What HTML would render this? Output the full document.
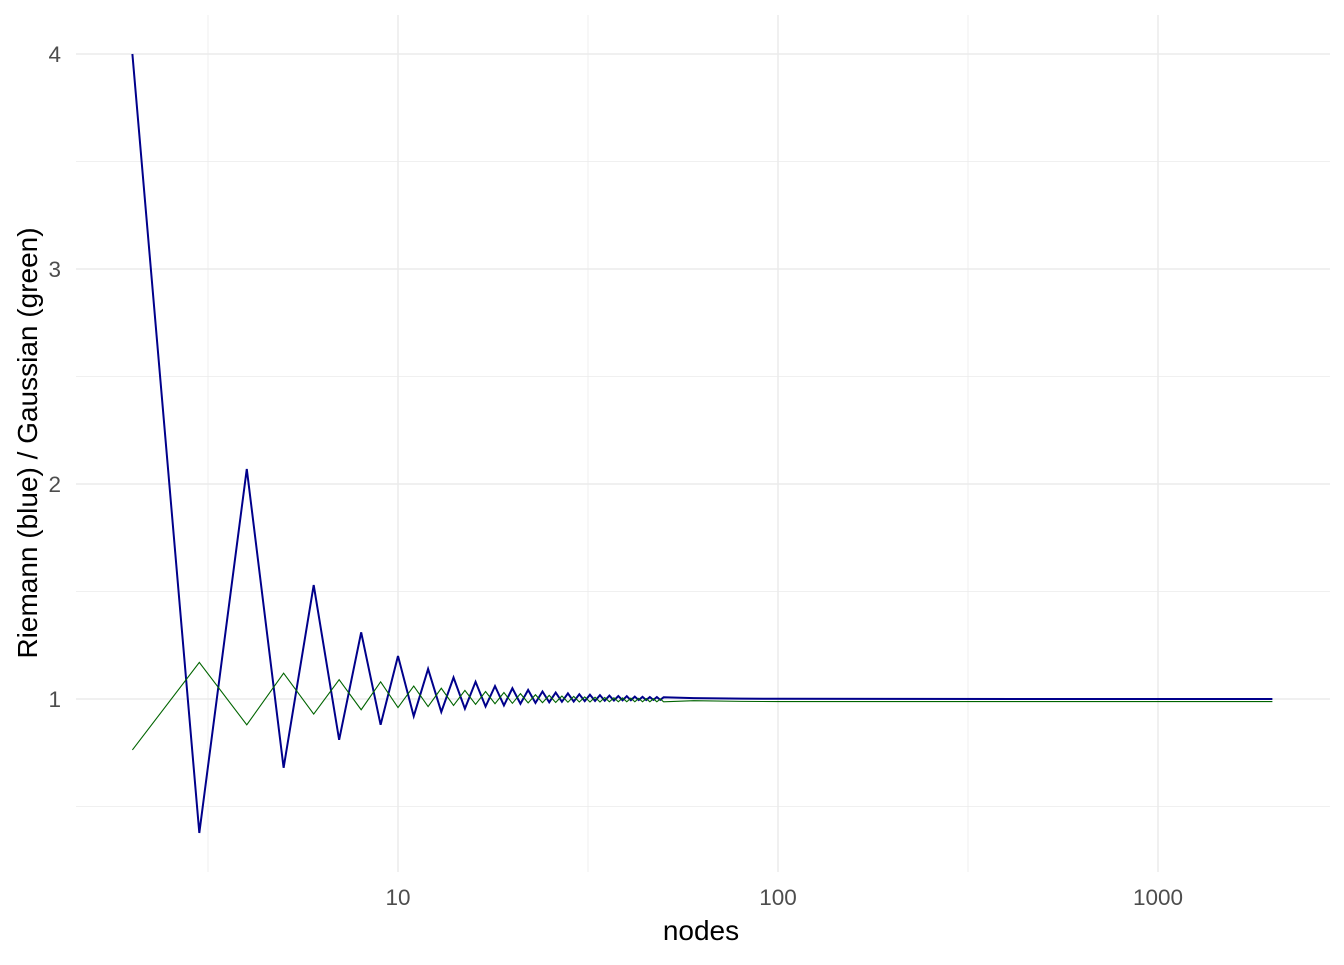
<!DOCTYPE html>
<html><head><meta charset="utf-8"><style>
body{margin:0;background:#fff;}
svg text{font-family:"Liberation Sans",Arial,sans-serif;}
</style></head><body>
<svg id="chart" width="1344" height="960">
<g id="grid"></g>
<g id="lines"></g>
<g id="axes"></g>
<text x="701" y="940" font-size="28" text-anchor="middle" fill="#000">nodes</text>
<text transform="translate(37,443) rotate(-90)" font-size="28" text-anchor="middle" fill="#000">Riemann (blue) / Gaussian (green)</text>
</svg>
<script>
const nodes = [2,3,4,5,6,7,8,9,10,11,12,13,14,15,16,17,18,19,20,21,22,23,24,25,26,27,28,29,30,31,32,33,34,35,36,37,38,39,40,41,42,43,44,45,46,47,48,49,50,60,80,100,200,500,1000,2000];
const riemann = [4,0.377,2.07,0.68,1.53,0.81,1.31,0.88,1.2,0.92,1.14,0.94,1.10,0.955,1.08,0.965,1.06,0.97,1.05,0.978,1.042,0.982,1.035,0.985,1.03,0.987,1.026,0.988,1.022,0.99,1.02,0.991,1.018,0.992,1.016,0.993,1.014,0.994,1.013,0.994,1.011,0.995,1.01,0.995,1.009,0.996,1.009,0.996,1.008,1.004,1.002,1.001,1.0005,1.0001,1.0,1.0];
const gaussian = [0.763,1.17,0.88,1.12,0.93,1.09,0.95,1.08,0.96,1.06,0.965,1.05,0.97,1.04,0.975,1.035,0.978,1.03,0.98,1.025,0.982,1.02,0.983,1.017,0.984,1.014,0.985,1.012,0.986,1.01,0.986,1.008,0.986,1.007,0.987,1.006,0.987,1.005,0.987,1.004,0.987,1.003,0.987,1.002,0.987,1.001,0.987,1.0,0.987,0.992,0.989,0.988,0.988,0.988,0.988,0.988];
const xTicks = [10,100,1000];
const xMinor = [Math.sqrt(10),Math.sqrt(1000),Math.sqrt(100000)];
const yTicks = [1,2,3,4];
const yMinor = [0.5,1.5,2.5,3.5];

const NS='http://www.w3.org/2000/svg';
const X=v=>398+380*Math.log10(v/10);
const Y=v=>699-215*(v-1);
const L=76,R=1330,T=15,B=872;
const grid=document.getElementById('grid'),axes=document.getElementById('axes'),lines=document.getElementById('lines');
function mk(tag,attrs,parent){const e=document.createElementNS(NS,tag);for(const k in attrs)e.setAttribute(k,attrs[k]);parent.appendChild(e);return e;}
yMinor.forEach(v=>{const e=mk('line',{x1:L,x2:R,y1:Y(v),y2:Y(v),stroke:'#ebebeb','stroke-width':0.8},grid);

});
xMinor.forEach(v=>{const e=mk('line',{x1:X(v),x2:X(v),y1:T,y2:B,stroke:'#ebebeb','stroke-width':0.8},grid);

});
yTicks.forEach(v=>{const e=mk('line',{x1:L,x2:R,y1:Y(v),y2:Y(v),stroke:'#ebebeb','stroke-width':1.5},grid);


const t=mk('text',{x:61,y:Y(v)+8,'font-size':22.5,'text-anchor':'end',fill:'#4d4d4d'},axes);t.textContent=v;

});
xTicks.forEach(v=>{const e=mk('line',{x1:X(v),x2:X(v),y1:T,y2:B,stroke:'#ebebeb','stroke-width':1.5},grid);


const t=mk('text',{x:X(v),y:905,'font-size':22.5,'text-anchor':'middle',fill:'#4d4d4d'},axes);t.textContent=v;

});
function path(vals,color,w,name){const d=nodes.map((n,i)=>(i?'L':'M')+X(n).toFixed(2)+','+Y(vals[i]).toFixed(2)).join('');
const p=mk('path',{d:d,fill:'none',stroke:color,'stroke-width':w,'stroke-linejoin':'miter'},lines);

}
path(riemann,'#00008b',2,'riemann-line');
path(gaussian,'#006400',1.1,'gaussian-line');
</script>
</body></html>
